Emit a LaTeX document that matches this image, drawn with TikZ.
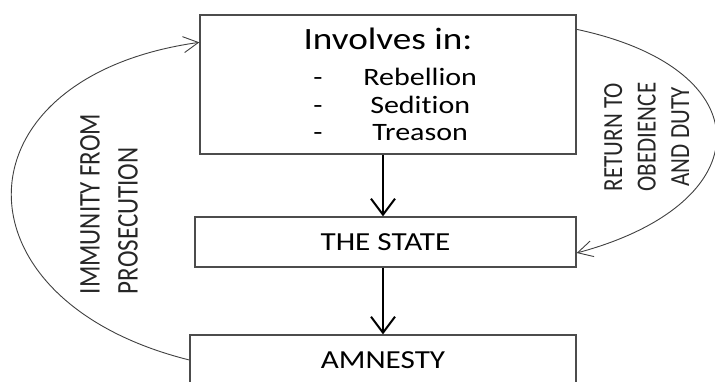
\documentclass[tikz,border=0pt]{standalone}
\usepackage{fontspec}
\setmainfont[Ligatures=NoCommon]{Carlito}
\usetikzlibrary{arrows.meta}
\newcommand\wide[1]{\scalebox{1.2}[1]{#1}}
\newcommand\tall[1]{\scalebox{1}[1.2]{#1}}
\tikzset{box/.style={draw=black!70, line width=1.3pt, inner sep=0pt, align=center},
  flow/.style={line width=2pt, -{Straight Barb[length=16pt,width=24pt]}},
  backarrow/.style={draw=black!75, line width=0.9pt, -{Straight Barb[length=15pt,width=16pt]}}}

\begin{document}
\begin{tikzpicture}[x=1pt, y=1pt]
\useasboundingbox (0,0) rectangle (715,381);
\node[box, minimum width=376pt, minimum height=139pt, font=\fontsize{31}{36}\selectfont] (offence) at (388,296.5) {\wide{\rule{0pt}{30pt}Involves in:}\\ \wide{\fontsize{25}{27.5}\selectfont\begin{tabular}[t]{@{\hspace{12pt}}c@{\hspace{34pt}}c@{}}-&Rebellion\\-&Sedition\\-&Treason\end{tabular}}};
\node[box, minimum width=381pt, minimum height=50pt, font=\fontsize{26}{30}\selectfont] (state) at (385.5,139) {\wide{THE STATE}};
\node[box, minimum width=386pt, minimum height=50pt, font=\fontsize{26}{30}\selectfont] (amnesty) at (383,21) {\wide{AMNESTY}};
\node[rotate=90, inner sep=0pt, text=black!85, font=\fontsize{25}{31.7}\selectfont] (immunity) at (111,177) {\tall{\begin{tabular}{@{}l@{}}IMMUNITY FROM\\PROSECUTION\end{tabular}}};
\node[rotate=90, inner sep=0pt, text=black!85, font=\fontsize{23}{27.9}\selectfont] (obedience) at (649,244) {\tall{\begin{tabular}{@{}c@{}}RETURN TO\\OBEDIENCE\\AND DUTY\end{tabular}}};
\draw[flow] (offence.south -| amnesty.north) -- (state.north -| amnesty.north);
\draw[flow] (state.south -| amnesty.north) -- (amnesty.north);
\draw[backarrow] (amnesty.west) to[out=166, in=188, looseness=2] ([yshift=-28pt]offence.north west);
\draw[backarrow] ([yshift=-15pt]offence.north east) to[out=-12, in=15, looseness=2.2] ([yshift=-11pt]state.east);
\end{tikzpicture}
\end{document}
